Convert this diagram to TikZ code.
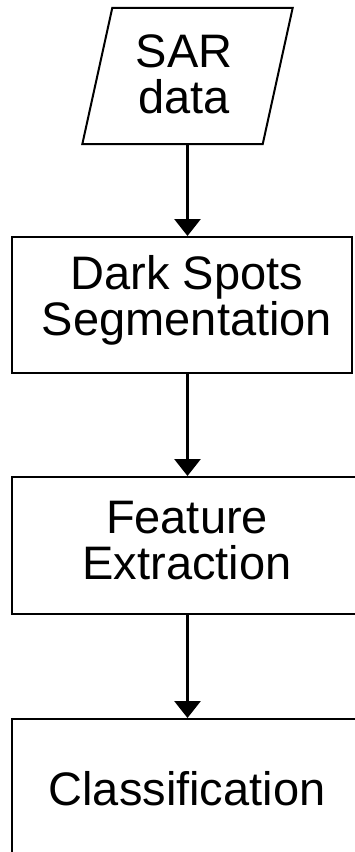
\documentclass[tikz,border=0pt]{standalone}
\usepackage{fontspec}
\setmainfont{Liberation Sans}
\usetikzlibrary{arrows.meta,calc}
\begin{document}
\begin{tikzpicture}[x=1pt,y=-1pt,
  stepbox/.style={draw, line width=2pt, inner sep=0pt, minimum height=136pt},
  steptext/.style={align=center, inner sep=0pt, font=\fontsize{47}{46}\selectfont},
  flow/.style={line width=3pt, -{Triangle[width=26pt,length=17pt]}}]
\useasboundingbox (0,0) rectangle (355,852);
\clip (0,0) rectangle (355,852);

% input parallelogram
\node[inner sep=0pt, minimum width=180pt, minimum height=136pt] (sar) at (187.5,76) {};
\draw[line width=2pt] ([xshift=15pt]sar.north west) -- ([xshift=15pt]sar.north east)
  -- ([xshift=-15pt]sar.south east) -- ([xshift=-15pt]sar.south west) -- cycle;
\node[steptext] (sartxt) at (184,74) {SAR\\data};

% processing steps
\node[stepbox, minimum width=340pt] (seg) at (182,305) {};
\node[steptext] (segtxt) at (187,300) {Dark Spots\\Segmentation};

\node[stepbox, minimum width=350pt, minimum height=137pt] (feat) at (187,545.5) {};
\node[steptext] (feattxt) at (187,541) {Feature\\Extraction};

\node[stepbox, minimum width=350pt, minimum height=137pt] (cls) at (187,787.5) {};
\node[steptext] (clstxt) at (187,789) {Classification};

% connectors
\draw[flow] (sar.south) -- (sar.south |- seg.north);
\draw[flow] (sar.south |- seg.south) -- (sar.south |- feat.north);
\draw[flow] (sar.south |- feat.south) -- (sar.south |- cls.north);
\end{tikzpicture}
\end{document}
